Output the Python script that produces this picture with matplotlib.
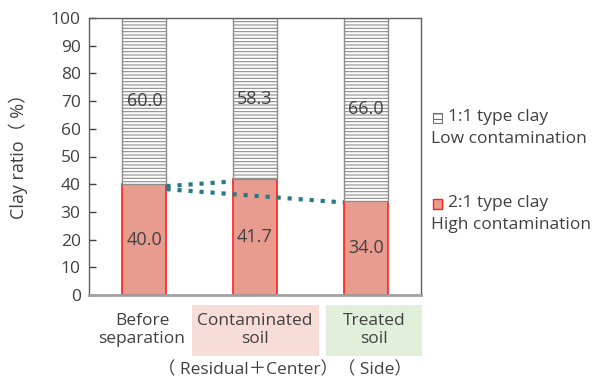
import numpy as np
import matplotlib.pyplot as plt
from matplotlib.patches import Rectangle

plt.rcParams['font.family'] = ['Open Sans', 'Noto Sans CJK JP', 'DejaVu Sans']

# Clay composition per soil fraction (%)
categories = ['Before\nseparation', 'Contaminated\nsoil', 'Treated\nsoil']
high_contam = [40.0, 41.7, 34.0]   # 2:1 type clay
low_contam = [60.0, 58.3, 66.0]    # 1:1 type clay

# Dotted links from the first bar to the other two (start y, end y)
link_upper = [39.3, 41.0]
link_lower = [38.2, 33.4]

text_col = '#404040'
red_face = '#e89c90'
red_edge = '#ff2020'
hatch_col = '#8c8c8c'
link_col = '#2a7a8a'

fig = plt.figure(figsize=(5.92, 3.78), dpi=100)
ax = fig.add_axes([89 / 592, 1 - 295 / 378, 332 / 592, 277 / 378])

x = np.arange(len(categories))
w = 0.4
plt.rcParams['hatch.linewidth'] = 0.8
plt.rcParams['hatch.color'] = hatch_col

ax.bar(x, high_contam, w, color=red_face, edgecolor=red_edge, linewidth=1.2, zorder=2)
ax.bar(x, low_contam, w, bottom=high_contam, color='white', edgecolor=hatch_col,
       hatch='-----', linewidth=1.0, zorder=2)

for xi, h, l in zip(x, high_contam, low_contam):
    ax.text(xi, h / 2, f'{h:.1f}', ha='center', va='center', fontsize=13,
            color=text_col, zorder=4)
    ax.text(xi, h + l / 2, f'{l:.1f}', ha='center', va='center', fontsize=13,
            color=text_col, zorder=4)

ax.plot([x[0] + w / 2, x[1] - w / 2], link_upper, color=link_col, linestyle=':',
        linewidth=3, zorder=3)
ax.plot([x[0] + w / 2, x[2] - w / 2], link_lower, color=link_col, linestyle=':',
        linewidth=3, zorder=3)

ax.set_xlim(-0.5, 2.5)
ax.set_ylim(0, 100)
ax.set_yticks(np.arange(0, 101, 10))
ax.set_xticks([])
ax.tick_params(axis='y', direction='in', length=5, labelsize=12.5, colors=text_col,
               width=1, pad=6)
for s in ['left', 'top', 'right']:
    ax.spines[s].set_color('#606060')
    ax.spines[s].set_linewidth(1)
ax.spines['bottom'].set_color('#a0a0a0')
ax.spines['bottom'].set_linewidth(2)

fig.text(18 / 592, 1 - 152 / 378, 'Clay ratio（ %）', rotation=90, ha='center',
         va='center', fontsize=13, color=text_col)

# Category labels below the axis, two of them on tinted panels
def px(xp, yp):
    return xp / 592, 1 - yp / 378

panels = [(192, 305, 127, 51, '#f8dcd8'), (326, 305, 96, 51, '#e2efda')]
for x0, y0, pw, ph, c in panels:
    fig.patches.append(Rectangle(px(x0, y0 + ph), pw / 592, ph / 378,
                                 transform=fig.transFigure, facecolor=c,
                                 edgecolor='none'))
label_x = [142, 255, 374]
for lx, lab in zip(label_x, categories):
    fig.text(*px(lx, 330), lab, ha='center', va='center', fontsize=12.5,
             color=text_col, linespacing=1.2)
fig.text(*px(285, 370), '（ Residual＋Center）（ Side）', ha='center', va='center',
         fontsize=12.5, color=text_col)

# Legend
fig.patches.append(Rectangle(px(433, 123), 9 / 592, 10 / 378, transform=fig.transFigure,
                             facecolor='white', edgecolor='#707070', hatch='---',
                             linewidth=0.8))
fig.patches.append(Rectangle(px(433, 209), 9 / 592, 10 / 378, transform=fig.transFigure,
                             facecolor=red_face, edgecolor=red_edge, linewidth=1))
fig.text(*px(448, 117), '1:1 type clay', ha='left', va='center', fontsize=12.5,
         color=text_col)
fig.text(*px(431, 139), 'Low contamination', ha='left', va='center', fontsize=12.5,
         color=text_col)
fig.text(*px(448, 203), '2:1 type clay', ha='left', va='center', fontsize=12.5,
         color=text_col)
fig.text(*px(431, 225), 'High contamination', ha='left', va='center', fontsize=12.5,
         color=text_col)

fig.savefig('out.png', dpi=100)
